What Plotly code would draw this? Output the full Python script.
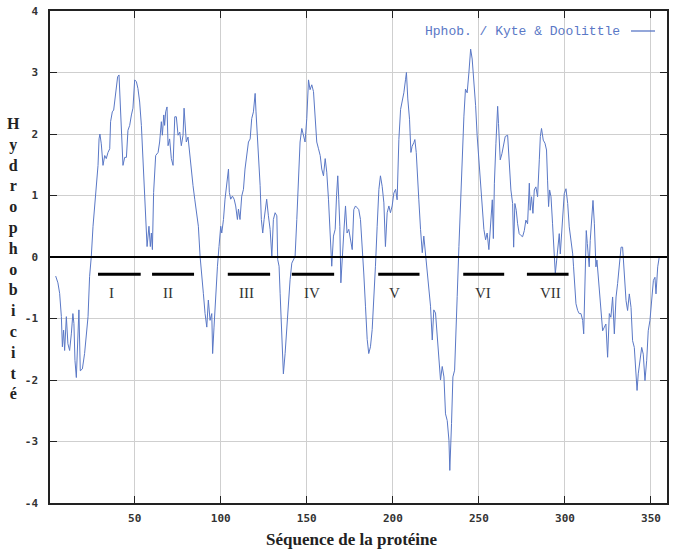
import plotly.graph_objects as go

# ---------------- data ----------------
residue = [
    4.1, 5.4, 6.4, 7.4, 8.0, 8.7, 9.3, 10.3, 11.2, 12.2, 13.2, 14.1, 14.7, 15.3, 16.1, 17.1, 17.6, 18.4, 19.6, 20.9,
    21.9, 22.9, 23.8, 24.8, 25.8, 26.7, 27.7, 28.7, 29.3, 29.8, 30.6, 31.6, 32.6, 33.5, 34.5, 35.5, 36.0, 37.0, 37.8, 38.4,
    39.3, 40.1, 40.9, 41.7, 42.2, 43.2, 44.2, 45.2, 46.1, 47.1, 48.1, 49.0, 50.0, 51.0, 51.9, 52.9, 53.9, 54.8, 55.8, 56.8,
    57.2, 58.3, 59.1, 59.7, 60.3, 61.0, 62.2, 63.6, 64.5, 65.5, 66.1, 66.9, 67.4, 68.0, 68.8, 69.4, 70.3, 71.3, 72.3, 73.3,
    74.2, 75.2, 76.2, 77.1, 78.1, 78.7, 79.5, 80.0, 81.0, 82.0, 82.9, 83.9, 84.9, 85.9, 87.0, 88.0, 89.0, 89.9, 90.9, 91.9,
    92.8, 93.8, 94.8, 95.3, 96.1, 97.1, 98.1, 99.0, 100.0, 100.6, 101.6, 102.5, 103.5, 104.5, 105.0, 105.8, 106.8, 107.8, 108.7, 109.7,
    110.3, 111.2, 112.2, 113.2, 114.1, 115.1, 116.1, 117.1, 118.0, 119.0, 120.0, 120.5, 121.3, 122.1, 122.9, 123.6, 124.4, 125.2, 126.0, 126.7,
    127.7, 128.7, 129.7, 130.6, 131.6, 132.6, 133.1, 133.9, 134.5, 135.5, 136.4, 137.4, 138.4, 139.3, 140.3, 141.3, 142.2, 143.2, 144.2, 145.2,
    146.1, 147.1, 148.1, 149.0, 150.0, 151.0, 151.9, 152.9, 153.9, 154.8, 155.8, 156.8, 157.8, 158.7, 159.7, 160.7, 161.6, 162.6, 163.6, 164.5,
    165.5, 166.5, 167.3, 168.0, 168.6, 169.2, 169.8, 170.5, 171.5, 172.5, 173.4, 174.4, 175.4, 176.4, 177.3, 178.3, 179.3, 180.2, 181.2, 182.2,
    183.1, 184.1, 185.1, 186.0, 187.0, 188.0, 189.0, 189.9, 190.9, 191.9, 192.8, 193.8, 194.8, 195.7, 196.7, 197.7, 198.6, 199.6, 200.6, 201.6,
    202.5, 203.5, 204.5, 205.4, 206.4, 207.4, 207.9, 208.7, 209.7, 210.5, 211.2, 212.2, 212.8, 213.6, 214.3, 215.1, 216.1, 217.1, 218.0, 219.0,
    220.0, 220.9, 221.9, 222.9, 223.8, 224.8, 225.8, 226.7, 227.7, 228.7, 229.7, 230.6, 231.6, 232.6, 233.1, 234.1, 234.9, 235.9, 236.4, 237.4,
    238.4, 239.3, 240.3, 241.3, 242.2, 243.2, 244.2, 245.2, 246.1, 247.1, 248.1, 249.0, 250.0, 251.0, 251.9, 252.9, 253.9, 254.8, 255.8, 256.8,
    257.8, 258.4, 259.0, 259.9, 260.9, 261.4, 262.4, 263.4, 264.3, 265.3, 266.7, 267.6, 268.6, 269.6, 270.2, 270.9, 271.7, 272.5, 273.4, 274.4,
    275.4, 276.4, 277.3, 278.3, 279.3, 279.8, 280.6, 281.4, 282.2, 283.1, 284.1, 285.1, 285.7, 286.4, 287.4, 288.4, 289.3, 289.9, 290.5, 291.1,
    291.9, 292.8, 293.8, 294.4, 295.2, 296.1, 296.7, 297.3, 298.1, 298.8, 299.6, 300.6, 301.6, 302.5, 303.5, 304.5, 305.0, 305.8, 306.4, 307.4,
    308.3, 309.3, 310.3, 310.9, 311.6, 312.4, 313.0, 313.6, 314.1, 314.7, 315.5, 316.3, 317.1, 318.0, 318.6, 319.2, 320.0, 320.9, 321.9, 322.9,
    323.8, 324.8, 325.8, 326.7, 327.7, 328.7, 329.7, 330.6, 331.6, 332.6, 333.5, 334.5, 335.5, 336.4, 337.4, 338.4, 339.3, 340.3, 341.3, 341.9,
    342.6, 343.6, 344.6, 345.5, 346.5, 347.5, 348.4, 349.4, 350.4, 351.4, 352.3, 352.9, 353.9, 354.8,
]
hydrophobicity = [
    -0.31, -0.42, -0.59, -0.97, -1.46, -1.19, -1.52, -0.97, -1.41, -1.52, -1.25, -0.92, -1.08, -1.68, -1.96, -1.03, -0.86, -1.85, -1.82, -1.57,
    -1.25, -0.97, -0.32, 0.01, 0.50, 0.83, 1.16, 1.49, 1.92, 2.00, 1.84, 1.49, 1.65, 1.60, 1.70, 1.76, 2.20, 2.36, 2.39, 2.52,
    2.69, 2.93, 2.96, 2.47, 1.92, 1.49, 1.62, 1.62, 2.06, 2.14, 2.31, 2.42, 2.88, 2.85, 2.74, 2.52, 2.14, 1.60, 0.99, 0.50,
    0.17, 0.50, 0.17, 0.39, 0.12, 1.05, 1.65, 1.70, 1.87, 2.20, 1.98, 2.31, 2.14, 2.36, 2.44, 1.81, 1.92, 1.60, 1.49, 2.28,
    2.28, 1.98, 2.03, 1.81, 1.98, 2.42, 1.98, 1.87, 1.95, 1.65, 1.38, 1.16, 0.94, 0.72, 0.50, 0.01, -0.37, -0.59, -0.92, -1.14,
    -0.70, -1.03, -0.92, -1.57, -1.14, -0.59, -0.15, 0.17, 0.50, 0.39, 0.61, 0.94, 1.16, 1.43, 1.05, 0.94, 0.99, 0.94, 0.83, 0.61,
    0.78, 0.61, 0.99, 1.10, 1.43, 1.65, 1.87, 1.92, 2.25, 2.36, 2.66, 2.36, 1.98, 1.60, 1.16, 0.61, 0.39, 0.61, 0.83, 0.94,
    0.67, 0.45, 0.01, 0.61, 0.72, 0.67, -0.04, -0.15, -0.59, -1.30, -1.90, -1.57, -1.14, -0.70, -0.37, -0.10, -0.04, 0.01, 0.61, 1.38,
    1.87, 2.09, 1.98, 1.87, 2.25, 2.88, 2.72, 2.80, 2.69, 2.36, 1.87, 1.76, 1.65, 1.43, 1.32, 1.60, 1.38, 0.94, 0.28, -0.15,
    0.34, 0.45, 1.00, 1.32, 0.93, 0.50, -0.42, -0.15, 0.39, 0.83, 0.39, 0.45, 0.28, 0.12, 0.77, 0.83, 0.80, 0.77, 0.61, 0.23,
    -0.26, -0.80, -1.34, -1.57, -1.46, -1.18, -0.70, -0.15, 0.50, 1.10, 1.32, 1.15, 0.88, 0.17, 0.72, 0.83, 0.72, 0.83, 1.04, 1.10,
    0.93, 1.91, 2.40, 2.51, 2.67, 2.89, 3.00, 2.57, 2.24, 1.70, 1.80, 1.86, 1.91, 1.70, 1.26, 0.93, 0.45, 0.07, 0.34, 0.07,
    -0.26, -0.53, -0.80, -1.35, -0.86, -0.91, -1.35, -1.67, -2.00, -1.78, -1.95, -2.55, -2.66, -2.98, -3.47, -2.71, -1.95, -1.84, -1.35, -0.64,
    0.17, 0.93, 1.75, 2.29, 2.73, 2.67, 3.00, 3.38, 3.22, 2.89, 2.46, 1.97, 1.59, 1.15, 0.72, 0.45, 0.28, 0.39, 0.12, 0.50,
    0.93, 0.30, 1.20, 1.85, 2.45, 2.17, 1.58, 1.68, 1.85, 1.96, 1.98, 1.58, 1.09, 0.87, 0.16, 0.87, 0.76, 0.54, 0.38, 0.35,
    0.33, 0.43, 0.60, 0.54, 1.20, 0.76, 0.98, 0.71, 1.09, 1.14, 0.98, 1.58, 1.96, 2.09, 1.90, 1.85, 1.74, 1.25, 0.82, 1.09,
    0.98, 0.54, 0.05, -0.27, -0.05, 0.27, 0.38, 0.05, 0.38, 0.82, 1.03, 1.11, 0.87, 0.49, 0.27, 0.05, -0.16, -0.60, -0.76, -0.87,
    -0.92, -0.92, -1.03, -1.25, -0.49, 0.43, 0.22, 0.00, -0.16, 0.27, 0.71, 0.92, 0.54, -0.16, -0.05, -0.27, -0.65, -0.92, -1.20, -1.14,
    -1.09, -1.63, -0.92, -0.98, -0.65, -1.25, -0.65, -0.43, -0.16, 0.16, 0.16, -0.27, -0.71, -0.87, -0.60, -0.82, -1.36, -1.47, -1.90, -2.17,
    -1.90, -1.68, -1.47, -1.58, -2.01, -1.68, -1.20, -1.03, -0.65, -0.38, -0.33, -0.60, -0.16, 0.00,
]

segment_labels = ["I", "II", "III", "IV", "V", "VI", "VII"]
segment_start = [28.7, 60.1, 104.1, 141.3, 191.5, 240.9, 277.9]
segment_end = [53.5, 84.5, 128.7, 165.9, 215.5, 264.7, 302.1]
segment_label_x = [36.6, 69.4, 115.1, 152.9, 201.0, 252.3, 291.5]
segment_level = -0.28
label_level = -0.59

x_ticks = [50, 100, 150, 200, 250, 300, 350]
y_ticks = [-4, -3, -2, -1, 0, 1, 2, 3, 4]

legend_text = "Hphob. / Kyte & Doolittle"
x_title = "Séquence de la protéine"
y_title = "Hydrophobicité"

# ---------------- figure ----------------
W, H = 673, 549
ML, MR, MT, MB = 50, 6, 11, 46
PW, PH = W - ML - MR, H - MT - MB

def px_x(px):
    return (px - ML) / PW

def px_y(py):
    return (H - MB - py) / PH

curve_color = "#5a78c6"
tick_font = dict(family="DejaVu Sans Mono", size=11, color="#333333", weight="bold")

fig = go.Figure()

fig.add_trace(go.Scatter(
    x=residue, y=hydrophobicity, mode="lines",
    line=dict(color=curve_color, width=1.0),
    showlegend=False, hoverinfo="skip",
))

seg_x, seg_y = [], []
for s, e in zip(segment_start, segment_end):
    seg_x += [s, e, None]
    seg_y += [segment_level, segment_level, None]
fig.add_trace(go.Scatter(
    x=seg_x, y=seg_y, mode="lines",
    line=dict(color="black", width=3),
    showlegend=False, hoverinfo="skip",
))

for lab, lx in zip(segment_labels, segment_label_x):
    fig.add_annotation(
        x=lx, y=label_level, text=lab, showarrow=False,
        font=dict(family="Liberation Serif", size=15, color="#333333"),
        xanchor="center", yanchor="middle",
    )

# zero line
fig.add_shape(type="line", xref="paper", yref="y", x0=0, x1=1, y0=0, y1=0,
              line=dict(color="black", width=2), layer="above")

# legend (text + sample line)
fig.add_annotation(
    xref="paper", yref="paper", x=px_x(622), y=px_y(31), text=legend_text,
    showarrow=False, xanchor="right", yanchor="middle",
    font=dict(family="Liberation Mono", size=13, color=curve_color),
)
fig.add_shape(type="line", xref="paper", yref="paper",
              x0=px_x(631), x1=px_x(655), y0=px_y(31), y1=px_y(31),
              line=dict(color=curve_color, width=1.3))

# axis titles
fig.add_annotation(
    xref="paper", yref="paper", x=px_x(352), y=px_y(539), text=f"<b>{x_title}</b>",
    showarrow=False, xanchor="center", yanchor="middle",
    font=dict(family="Liberation Serif", size=17, color="#222222"),
)
fig.add_annotation(
    xref="paper", yref="paper", x=px_x(13), y=px_y(258.5),
    text="<b>" + "<br>".join(list(y_title)) + "</b>",
    showarrow=False, xanchor="center", yanchor="middle", align="center",
    font=dict(family="Liberation Serif", size=16, color="#222222"),
)

axis_common = dict(
    showline=True, linecolor="#222222", linewidth=1.5, mirror="ticks",
    ticks="inside", ticklen=7, tickcolor="#222222", tickwidth=1,
    showgrid=True, gridcolor="#cfcfcf", gridwidth=1,
    zeroline=False, tickfont=tick_font, automargin=False,
)

fig.update_layout(
    width=W, height=H,
    margin=dict(l=ML, r=MR, t=MT, b=MB, autoexpand=False),
    paper_bgcolor="white", plot_bgcolor="white",
    xaxis=dict(range=[0.8, 359.3], tickmode="array", tickvals=x_ticks,
               ticktext=[str(v) for v in x_ticks], ticklabelstandoff=4, **axis_common),
    yaxis=dict(range=[-4, 4], tickmode="array", tickvals=y_ticks,
               ticktext=[str(v) for v in y_ticks], ticklabelstandoff=8, **axis_common),
)

fig.write_html(
    "out.html",
    config={"displayModeBar": False},
    post_script="document.body.style.margin='0px';document.body.style.overflow='hidden';",
)
